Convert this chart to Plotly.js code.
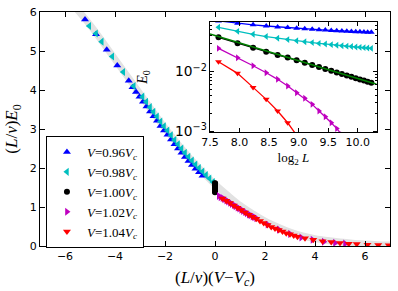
<!DOCTYPE html>
<html>
<head>
<meta charset="utf-8">
<script src="https://cdn.plot.ly/plotly-3.0.1.min.js"></script>
<style>html,body{margin:0;padding:0;background:#fff;}#chart{width:398px;height:291px;}</style>
</head>
<body>
<div id="chart"></div>
<script>
// ---- Main panel: scaling collapse (L/v)(V-Vc) vs (L/v)E0 ----
const bandX = [-5.6, -5, -4, -3, -2, -1, -0.5, 0, 0.5, 1, 1.5, 2, 2.5, 3, 3.5, 4, 4.5, 5, 5.5, 6, 6.5, 7.1];
const bandY = [6.13, 5.67, 4.79, 3.9, 3.02, 2.24, 1.9, 1.58, 1.3, 1.04, 0.83, 0.64, 0.49, 0.36, 0.26, 0.19, 0.14, 0.1, 0.07, 0.05, 0.035, 0.025];

const blueX = [-5.2, -4.76, -4.33, -3.91, -3.45, -3.3, -3.16, -3.02, -2.88, -2.74, -2.6, -2.46, -2.32, -2.18, -2.04, -1.9, -1.76, -1.62, -1.48, -1.34, -1.2, -1.06, -0.92, -0.78, -0.64, -0.5];
const blueY = [5.81, 5.43, 5.03, 4.63, 4.24, 4.07, 3.95, 3.83, 3.7, 3.58, 3.45, 3.33, 3.21, 3.08, 2.96, 2.85, 2.73, 2.61, 2.5, 2.39, 2.28, 2.18, 2.08, 1.98, 1.89, 1.8];

const cyanX = [-5.03, -4.76, -4.53, -4.11, -3.67, -3.25, -2.9, -2.75, -2.6, -2.46, -2.32, -2.18, -2.04, -1.9, -1.76, -1.62, -1.48, -1.34, -1.2, -1.06, -0.92, -0.78, -0.64, -0.5, -0.36, -0.22, -0.08];
const cyanY = [5.64, 5.45, 5.24, 4.86, 4.46, 4.1, 3.83, 3.7, 3.56, 3.44, 3.32, 3.19, 3.07, 2.96, 2.84, 2.72, 2.61, 2.5, 2.39, 2.29, 2.19, 2.09, 2.0, 1.91, 1.82, 1.73, 1.64];

const blackX = [0, 0, 0, 0, 0, 0, 0, 0, 0, 0, 0, 0, 0, 0, 0, 0, 0, 0, 0, 0, 0];
const blackY = [1.61, 1.6, 1.59, 1.58, 1.57, 1.56, 1.55, 1.54, 1.53, 1.52, 1.51, 1.5, 1.49, 1.48, 1.47, 1.46, 1.45, 1.43, 1.42, 1.4, 1.38];

const magX = [0.15, 0.22, 0.3, 0.37, 0.45, 0.52, 0.6, 0.67, 0.75, 0.82, 0.9, 0.97, 1.05, 1.12, 1.2, 1.27, 1.35, 1.42, 1.5, 1.57, 1.65, 2.1, 2.55, 3.0, 3.45, 3.9, 4.35, 4.8, 5.2];
const magY = [1.28, 1.25, 1.23, 1.2, 1.17, 1.14, 1.11, 1.08, 1.05, 1.02, 0.99, 0.96, 0.93, 0.9, 0.87, 0.84, 0.81, 0.79, 0.76, 0.74, 0.71, 0.55, 0.42, 0.31, 0.22, 0.16, 0.11, 0.08, 0.06];

const redX = [0.3, 0.45, 0.6, 0.75, 0.9, 1.05, 1.2, 1.35, 1.5, 1.65, 1.8, 1.95, 2.1, 2.25, 2.4, 2.55, 2.7, 2.85, 3.0, 3.15, 3.3, 3.6, 3.93, 4.3, 4.65, 5.0, 5.35, 5.67, 6.1, 6.53, 6.95];
const redY = [1.22, 1.16, 1.1, 1.04, 0.98, 0.92, 0.86, 0.8, 0.75, 0.7, 0.64, 0.59, 0.54, 0.49, 0.45, 0.41, 0.37, 0.33, 0.3, 0.27, 0.24, 0.2, 0.16, 0.12, 0.1, 0.08, 0.06, 0.05, 0.035, 0.025, 0.02];

// ---- Inset: E0 vs log2 L ----
const log2L = [7.644, 7.966, 8.229, 8.451, 8.644, 8.814, 8.966, 9.103, 9.229, 9.344, 9.451, 9.551, 9.644, 9.731, 9.814, 9.892, 9.966, 10.036, 10.104, 10.167, 10.229];
const E0blue = [0.0708, 0.0646, 0.0610, 0.0582, 0.0562, 0.0547, 0.0533, 0.0522, 0.0513, 0.0505, 0.0498, 0.0491, 0.0485, 0.0481, 0.0476, 0.0472, 0.0468, 0.0465, 0.0461, 0.0458, 0.0455];
const E0cyan = [0.0553, 0.0473, 0.0422, 0.0387, 0.0363, 0.0344, 0.0328, 0.0316, 0.0306, 0.0297, 0.0290, 0.0283, 0.0277, 0.0272, 0.0267, 0.0263, 0.0259, 0.0255, 0.0252, 0.0248, 0.0245];
const E0black = [0.0376, 0.0298, 0.0251, 0.0216, 0.01905, 0.01718, 0.01549, 0.01406, 0.01288, 0.01189, 0.01104, 0.0103, 0.00966, 0.0091, 0.00859, 0.00815, 0.00774, 0.00738, 0.00705, 0.00675, 0.00646];
const E0mag = [0.0245, 0.01706, 0.0125, 0.00955, 0.0074, 0.0057, 0.0044, 0.00355, 0.00281, 0.00217, 0.00174, 0.00138, 0.0011, 0.00087];
const E0red = [0.01463, 0.00933, 0.00542, 0.00341, 0.00217, 0.00138, 0.00085];
const fitX = [7.5, 10.32];
const fitY = [0.04266, 0.0061];

const labels = ['<i>V</i>=0.96<i>V<sub>c</sub></i>', '<i>V</i>=0.98<i>V<sub>c</sub></i>', '<i>V</i>=1.00<i>V<sub>c</sub></i>', '<i>V</i>=1.02<i>V<sub>c</sub></i>', '<i>V</i>=1.04<i>V<sub>c</sub></i>'];
const colors = ['#0000ff', '#00bfbf', '#000000', '#bf00bf', '#ff0000'];
const symbols = ['triangle-up', 'triangle-left', 'circle', 'triangle-right', 'triangle-down'];

const serif = 'Liberation Serif, DejaVu Serif, serif';
const sans = 'DejaVu Sans, sans-serif';

const traces = [];
traces.push({x: bandX, y: bandY, mode: 'lines', line: {color: '#e2e2e2', width: 7, shape: 'spline'}, showlegend: false, hoverinfo: 'skip'});
const mainX = [blueX, cyanX, blackX, magX, redX];
const mainY = [blueY, cyanY, blackY, magY, redY];
for (let i = 0; i < 5; i++) {
  traces.push({x: mainX[i], y: mainY[i], mode: 'markers', name: labels[i],
    marker: {symbol: symbols[i], color: colors[i], size: i === 2 ? 6 : 7, line: {width: 0}}});
}
const insetY = [E0blue, E0cyan, E0black, E0mag, E0red];
for (let i = 0; i < 5; i++) {
  traces.push({x: log2L.slice(0, insetY[i].length), y: insetY[i], xaxis: 'x2', yaxis: 'y2', mode: 'lines+markers',
    showlegend: false, line: {color: colors[i], width: 1.3},
    marker: {symbol: symbols[i], color: colors[i], size: 6, line: {width: 0}}});
}
traces.push({x: fitX, y: fitY, xaxis: 'x2', yaxis: 'y2', mode: 'lines', showlegend: false, line: {color: '#008000', width: 1.5}});

const axBase = {showline: true, linecolor: '#000', linewidth: 1, mirror: 'ticks', ticks: 'inside', tickcolor: '#000',
  showgrid: false, zeroline: false, tickfont: {family: sans, size: 11, color: '#000'}};

const layout = {
  width: 398, height: 291,
  margin: {l: 40, r: 8, t: 12, b: 45},
  paper_bgcolor: '#fff', plot_bgcolor: '#fff',
  xaxis: Object.assign({}, axBase, {range: [-7, 7], dtick: 2, tick0: 0, ticklen: 5, domain: [0, 1],
    title: {text: '(<i>L</i>/<i>v</i>)(<i>V</i>\u2212<i>V<sub>c</sub></i>)', font: {family: serif, size: 17, color: '#000'}, standoff: 8}}),
  yaxis: Object.assign({}, axBase, {range: [0, 6], dtick: 1, tick0: 0, ticklen: 5, domain: [0, 1],
    title: {text: '(<i>L</i>/<i>v</i>)<i>E</i><sub>0</sub>', font: {family: serif, size: 17, color: '#000'}, standoff: 7}}),
  xaxis2: Object.assign({}, axBase, {anchor: 'y2', domain: [0.4857, 0.962], range: [7.5, 10.32], dtick: 0.5, tick0: 7.5,
    tickformat: '.1f', ticklen: 4,
    title: {text: 'log<sub>2</sub> <i>L</i>', font: {family: serif, size: 13, color: '#000'}, standoff: 4}}),
  yaxis2: Object.assign({}, axBase, {anchor: 'x2', domain: [0.486, 0.9585], type: 'log', range: [-3.02, -1.163], dtick: 1,
    exponentformat: 'power', ticklen: 4,
    minor: {ticks: 'inside', ticklen: 2, tickcolor: '#000', dtick: 'D1', showgrid: false},
    title: {text: '<i>E</i><sub>0</sub>', font: {family: serif, size: 14, color: '#000'}, standoff: 24}}),
  legend: {x: 0.017, y: 0.47, xanchor: 'left', yanchor: 'top', bgcolor: '#fff', bordercolor: '#000', borderwidth: 1,
    font: {family: serif, size: 13, color: '#000'}, tracegroupgap: 0},
  showlegend: true
};

Plotly.newPlot('chart', traces, layout, {displayModeBar: false, staticPlot: true});
</script>
</body>
</html>
